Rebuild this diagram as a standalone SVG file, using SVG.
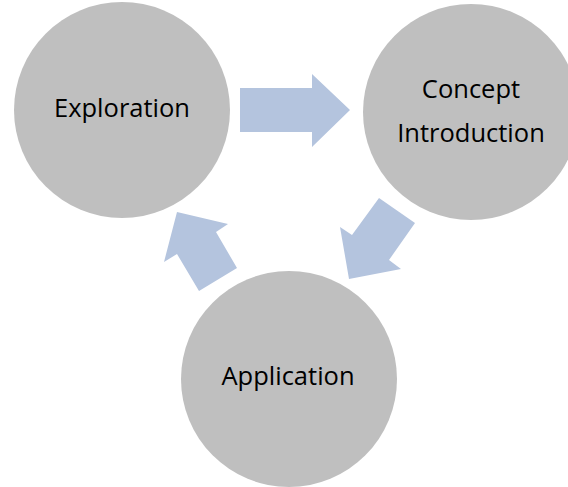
<svg xmlns="http://www.w3.org/2000/svg" width="568" height="487" viewBox="0 0 568 487">
<style>
.node{fill:#BFBFBF;}
.lbl{font-family:"Open Sans","Liberation Sans",sans-serif;font-size:25.5px;fill:#000;text-anchor:middle;}
.arrow{fill:#B4C4DE;}
</style>
<rect width="568" height="487" fill="#fff"/>
<g id="connectors">
<polygon class="arrow" points="240,88 312,88 312,74 350,110 312,147 312,132 240,132"/>
<polygon class="arrow" points="379,198 415,223 389,260 401,269 349,279 340,227 352,235"/>
<polygon class="arrow" points="199,291 177,254 164,262 177,212 228,224 216,232 237,268"/>
</g>
<g id="exploration">
<circle class="node" cx="122" cy="110" r="108"/>
<text class="lbl" x="122" y="117">Exploration</text>
</g>
<g id="concept-introduction">
<circle class="node" cx="471" cy="112" r="108"/>
<text class="lbl" x="471" y="98">Concept</text>
<text class="lbl" x="471" y="142">Introduction</text>
</g>
<g id="application">
<circle class="node" cx="289" cy="379" r="108"/>
<text class="lbl" x="288" y="385">Application</text>
</g>
</svg>
